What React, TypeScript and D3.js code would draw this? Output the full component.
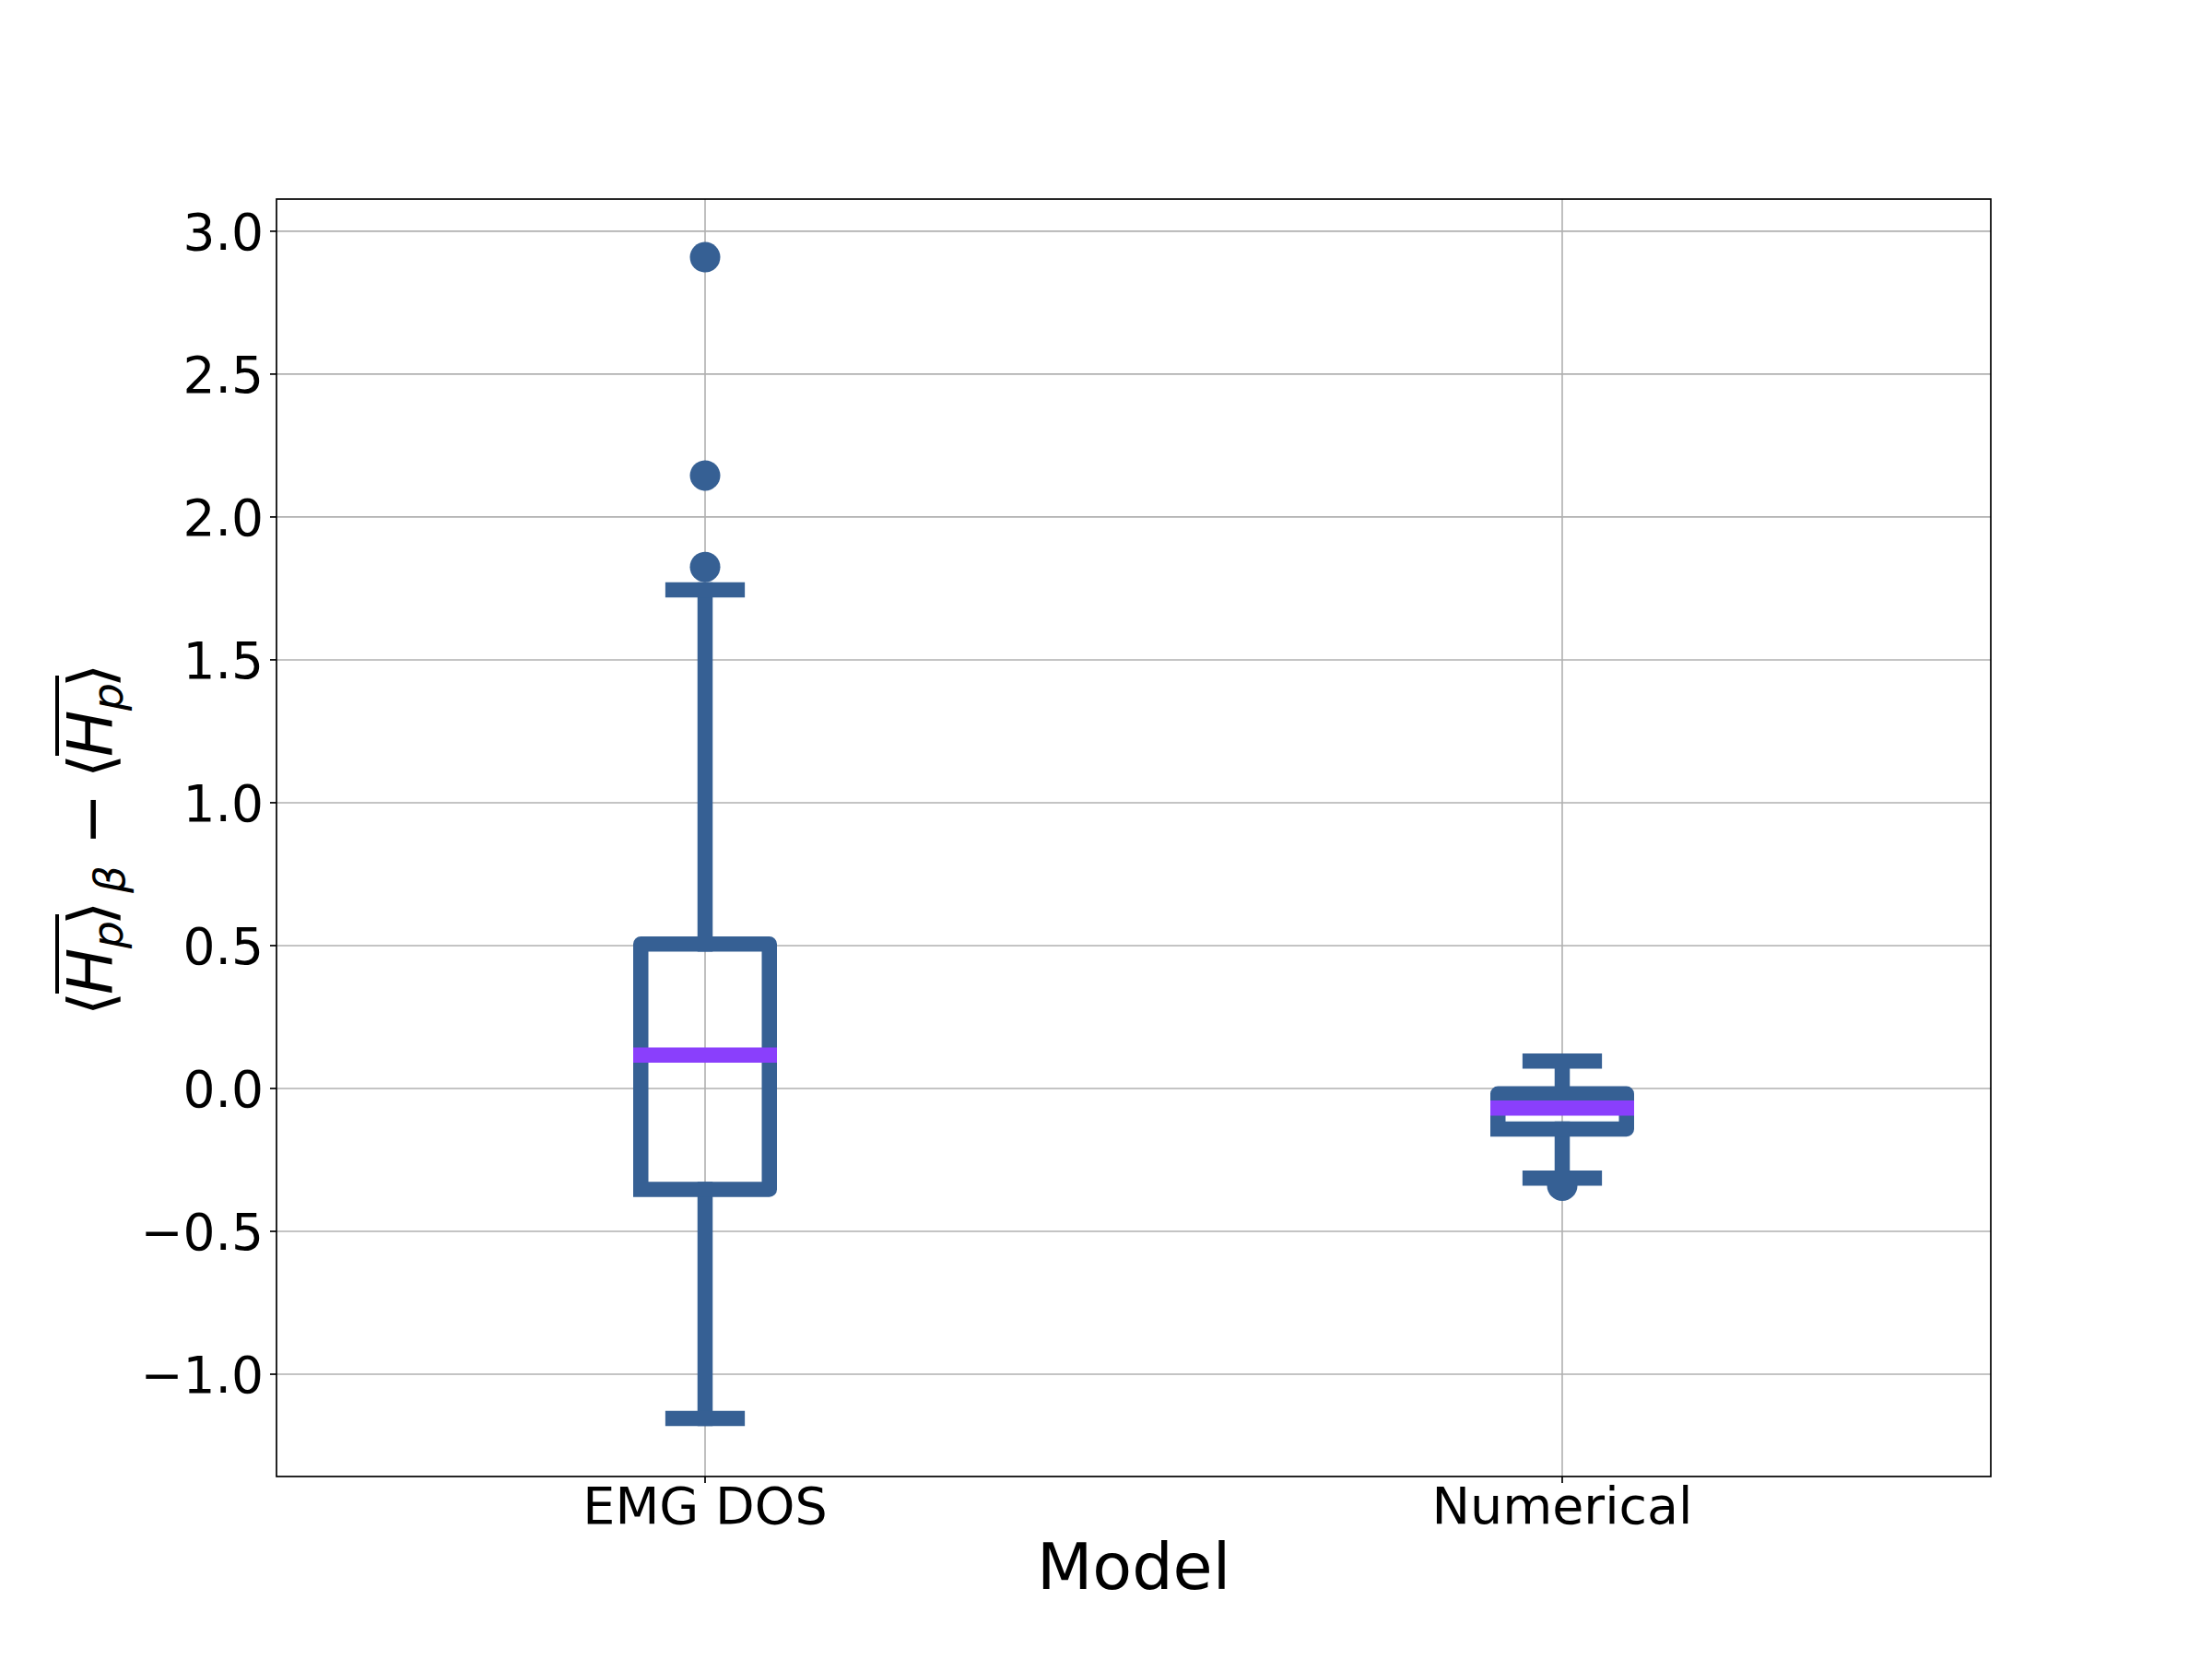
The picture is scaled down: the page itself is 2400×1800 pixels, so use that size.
import React from "react";
import * as d3 from "d3";

const categories = ["EMG DOS", "Numerical"];
const q1 = [-0.353, -0.142];
const medians = [0.1165, -0.069];
const q3 = [0.5055, -0.019];
const whiskerLow = [-1.155, -0.314];
const whiskerHigh = [1.745, 0.096];
const outliers = [[2.909, 2.145, 1.825], [-0.34]];
const yTicks = [-1.0, -0.5, 0.0, 0.5, 1.0, 1.5, 2.0, 2.5, 3.0];

const W = 2400;
const H = 1800;
const L = 300, R = 2160, T = 216, B = 1602;
const BLUE = "#366094";
const PURPLE = "#8a3ffc";
const FONT = "'DejaVu Sans', sans-serif";

export default function App() {
  const x = d3.scaleLinear().domain([0.5, 2.5]).range([L, R]);
  const y = d3.scaleLinear().domain([-1.358, 3.1125]).range([B, T]);
  const boxW = x(0.15) - x(0);
  const capW = boxW / 2;
  const lw = 16.5;
  const fmt = (v: number) => (v < 0 ? "\u2212" : "") + Math.abs(v).toFixed(1);
  const lf = 67;
  const sf = 47;

  return (
    <svg width={W} height={H} style={{ position: "absolute", left: 0, top: 0, background: "#fff" }}>
      <rect x={0} y={0} width={W} height={H} fill="#fff" />
      {/* grid */}
      {yTicks.map((t) => (
        <line key={"gy" + t} x1={L} x2={R} y1={y(t)} y2={y(t)} stroke="#b0b0b0" strokeWidth={1.6} />
      ))}
      {categories.map((c, i) => (
        <line key={"gx" + c} x1={x(i + 1)} x2={x(i + 1)} y1={T} y2={B} stroke="#b0b0b0" strokeWidth={1.6} />
      ))}
      {/* boxes */}
      {categories.map((c, i) => {
        const cx = x(i + 1);
        const l = cx - boxW / 2, r = cx + boxW / 2;
        const yb = y(q1[i]), yt = y(q3[i]);
        const boxPath = `M${l},${yb} L${r},${yb} L${r},${yt} L${l},${yt} L${l},${yb}`;
        return (
          <g key={"b" + c} stroke={BLUE} strokeWidth={lw} fill="none" strokeLinecap="square">
            <line x1={cx} x2={cx} y1={yb} y2={y(whiskerLow[i])} />
            <line x1={cx} x2={cx} y1={yt} y2={y(whiskerHigh[i])} />
            <line x1={cx - capW / 2} x2={cx + capW / 2} y1={y(whiskerLow[i])} y2={y(whiskerLow[i])} />
            <line x1={cx - capW / 2} x2={cx + capW / 2} y1={y(whiskerHigh[i])} y2={y(whiskerHigh[i])} />
            <path d={boxPath} strokeLinejoin="round" />
            <line x1={l} x2={r} y1={y(medians[i])} y2={y(medians[i])} stroke={PURPLE} />
            {outliers[i].map((o, k) => (
              <circle key={k} cx={cx} cy={y(o)} r={16.5} fill={BLUE} stroke="none" />
            ))}
          </g>
        );
      })}
      {/* frame */}
      <rect x={L} y={T} width={R - L} height={B - T} fill="none" stroke="#000" strokeWidth={1.7} />
      {/* y ticks */}
      {yTicks.map((t) => (
        <g key={"ty" + t}>
          <line x1={L - 7} x2={L} y1={y(t)} y2={y(t)} stroke="#000" strokeWidth={1.7} />
          <text x={286} y={y(t) + 20} textAnchor="end" fontFamily={FONT} fontSize={55} fill="#000">
            {fmt(t)}
          </text>
        </g>
      ))}
      {/* x ticks */}
      {categories.map((c, i) => (
        <g key={"tx" + c}>
          <line x1={x(i + 1)} x2={x(i + 1)} y1={B} y2={B + 7} stroke="#000" strokeWidth={1.7} />
          <text x={x(i + 1)} y={1653} textAnchor="middle" fontFamily={FONT} fontSize={55.5} fill="#000">
            {c}
          </text>
        </g>
      ))}
      <text x={(L + R) / 2} y={1724} textAnchor="middle" fontFamily={FONT} fontSize={70} fill="#000">
        Model
      </text>
      {/* y label */}
      <g transform="translate(122, 1098) rotate(-90)">
        <text fontFamily={FONT} fontSize={lf} fill="#000">
          <tspan x={-4} y={0}>{"\u27E8"}</tspan>
          <tspan x={19} y={0} fontStyle="italic">H</tspan>
          <tspan x={69} y={11} fontStyle="italic" fontSize={sf}>p</tspan>
          <tspan x={94} y={0}>{"\u27E9"}</tspan>
          <tspan x={129} y={13} fontStyle="italic" fontSize={sf}>{"\u03B2"}</tspan>
          <tspan x={181} y={0}>{"\u2212"}</tspan>
          <tspan x={254} y={0}>{"\u27E8"}</tspan>
          <tspan x={277} y={0} fontStyle="italic">H</tspan>
          <tspan x={327} y={11} fontStyle="italic" fontSize={sf}>p</tspan>
          <tspan x={352} y={0}>{"\u27E9"}</tspan>
        </text>
        <rect x={20} y={-62} width={86} height={4} fill="#000" />
        <rect x={278} y={-62} width={87} height={4} fill="#000" />
      </g>
    </svg>
  );
}
